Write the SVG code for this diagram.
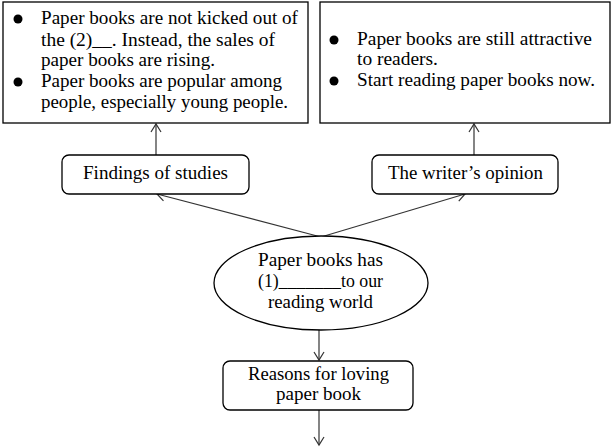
<svg xmlns="http://www.w3.org/2000/svg" width="613" height="447" viewBox="0 0 613 447">
<style>
text{font-family:"Liberation Serif","DejaVu Serif",serif;font-size:19px;fill:#000}
.box{fill:#fff;stroke:#000;stroke-width:1.3}
.c{text-anchor:middle}
.ln{stroke:#333;stroke-width:1.2;fill:none;marker-end:url(#ah)}
</style>
<defs>
<marker id="ah" markerWidth="12" markerHeight="12" refX="10" refY="6" orient="auto" markerUnits="userSpaceOnUse">
<path d="M2,1 L10,6 L2,11" fill="none" stroke="#333" stroke-width="1.2"/>
</marker>
</defs>
<g id="connectors">
<line class="ln" x1="156" y1="155" x2="156" y2="124"/>
<line class="ln" x1="474" y1="155" x2="474" y2="124"/>
<line class="ln" x1="321" y1="237" x2="157" y2="194"/>
<line class="ln" x1="321" y1="237" x2="465" y2="194"/>
<line class="ln" x1="319" y1="330" x2="319" y2="360"/>
<line class="ln" x1="319" y1="410" x2="319" y2="445"/>
</g>
<g id="findings-box">
<rect class="box" x="3" y="2" width="305" height="121"/>
<circle cx="18" cy="19" r="4.5"/>
<circle cx="18" cy="82" r="4.5"/>
<text x="41" y="24" textLength="257" lengthAdjust="spacingAndGlyphs">Paper books are not kicked out of</text>
<text x="41" y="46" textLength="234" lengthAdjust="spacingAndGlyphs">the (2)__. Instead, the sales of</text>
<text x="41" y="66" textLength="174" lengthAdjust="spacingAndGlyphs">paper books are rising.</text>
<text x="41" y="87" textLength="241" lengthAdjust="spacingAndGlyphs">Paper books are popular among</text>
<text x="41" y="108" textLength="247" lengthAdjust="spacingAndGlyphs">people, especially young people.</text>
</g>
<g id="opinion-box">
<rect class="box" x="320" y="2" width="290" height="121"/>
<circle cx="334" cy="40" r="4.5"/>
<circle cx="334" cy="81" r="4.5"/>
<text x="357" y="45" textLength="235" lengthAdjust="spacingAndGlyphs">Paper books are still attractive</text>
<text x="357" y="65" textLength="81" lengthAdjust="spacingAndGlyphs">to readers.</text>
<text x="357" y="86" textLength="238" lengthAdjust="spacingAndGlyphs">Start reading paper books now.</text>
</g>
<g id="findings">
<rect class="box" x="62" y="155" width="187" height="39" rx="7"/>
<text class="c" x="155.5" y="179" textLength="145" lengthAdjust="spacingAndGlyphs">Findings of studies</text>
</g>
<g id="opinion">
<rect class="box" x="372" y="155" width="186" height="39" rx="7"/>
<text class="c" x="465.5" y="179" textLength="155" lengthAdjust="spacingAndGlyphs">The writer’s opinion</text>
</g>
<g id="main">
<ellipse class="box" cx="321" cy="283" rx="107" ry="47"/>
<text class="c" x="320.5" y="266" textLength="125" lengthAdjust="spacingAndGlyphs">Paper books has</text>
<text class="c" x="320.5" y="287" textLength="125" lengthAdjust="spacingAndGlyphs">(1)_______to our</text>
<text class="c" x="320.5" y="308" textLength="105" lengthAdjust="spacingAndGlyphs">reading world</text>
</g>
<g id="reasons">
<rect class="box" x="223" y="361" width="190" height="49" rx="7"/>
<text class="c" x="318.5" y="380" textLength="141" lengthAdjust="spacingAndGlyphs">Reasons for loving</text>
<text class="c" x="318.5" y="400" textLength="85" lengthAdjust="spacingAndGlyphs">paper book</text>
</g>
</svg>
